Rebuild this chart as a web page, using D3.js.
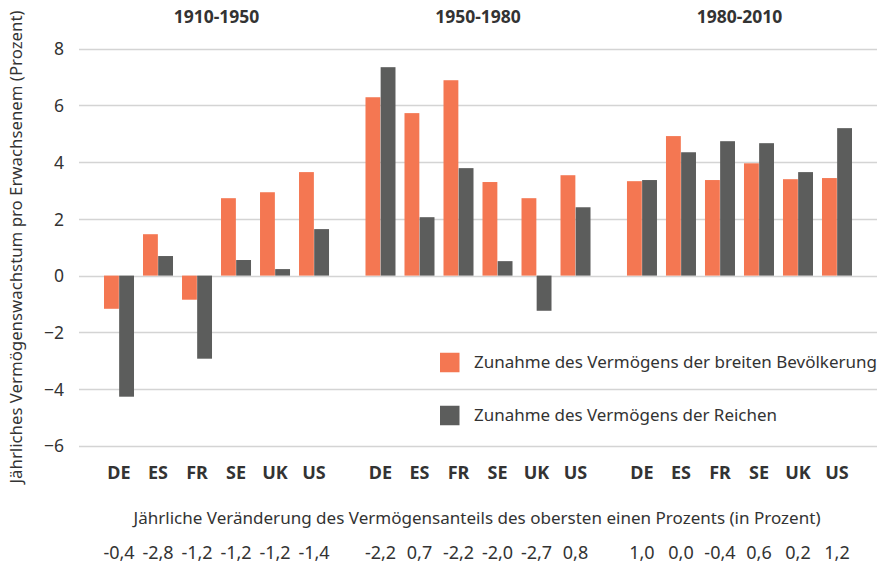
<!DOCTYPE html>
<html>
<head>
<meta charset="utf-8">
<script src="https://cdn.jsdelivr.net/npm/d3@7"></script>
<style>
  html, body { margin: 0; padding: 0; background: #fff; }
  svg { display: block; font-family: "Noto Sans", "Open Sans", sans-serif; }
</style>
</head>
<body>
<svg id="chart" width="882" height="577"></svg>
<script>
// ---- Data ----
const periods = ["1910-1950", "1950-1980", "1980-2010"];
const countries = ["DE", "ES", "FR", "SE", "UK", "US"];
const seriesNames = [
  "Zunahme des Vermögens der breiten Bevölkerung",
  "Zunahme des Vermögens der Reichen"
];
// Growth of wealth of the broad population (per period, per country)
const broadValues = [
  [-1.17, 1.46, -0.85, 2.73, 2.94, 3.65],
  [6.29, 5.73, 6.89, 3.30, 2.73, 3.54],
  [3.33, 4.92, 3.37, 3.96, 3.40, 3.44]
];
// Growth of wealth of the rich
const richValues = [
  [-4.27, 0.69, -2.93, 0.55, 0.23, 1.64],
  [7.35, 2.06, 3.79, 0.51, -1.24, 2.41],
  [3.37, 4.35, 4.74, 4.67, 3.65, 5.20]
];
// Annual change of top 1% wealth share
const shareChange = [
  ["-0,4", "-2,8", "-1,2", "-1,2", "-1,2", "-1,4"],
  ["-2,2", "0,7", "-2,2", "-2,0", "-2,7", "0,8"],
  ["1,0", "0,0", "-0,4", "0,6", "0,2", "1,2"]
];
const yTicks = [-6, -4, -2, 0, 2, 4, 6, 8];
const yTitle = "Jährliches Vermögenswachstum pro Erwachsenem (Prozent)";
const xTitle = "Jährliche Veränderung des Vermögensanteils des obersten einen Prozents (in Prozent)";
const colors = ["#F47752", "#5C5D5C"];

// ---- Layout ----
const svg = d3.select("#chart");
const gridLeft = 79, gridRight = 877;
const y = d3.scaleLinear().domain([-6, 8]).range([445.75, 48.75]);

const xGroup = d3.scaleBand().domain(periods).range([99.5, 856.5])
  .paddingInner(0.105).paddingOuter(0);
const xCountry = d3.scaleBand().domain(countries).range([0, xGroup.bandwidth()])
  .paddingInner(0.2308).paddingOuter(0.1154);
const xSeries = d3.scaleBand().domain([0, 1]).range([0, xCountry.bandwidth()]).paddingInner(0.02);

const textColor = "#333333";

// Gridlines
const grid = svg.append("g");
grid.selectAll("line").data(yTicks).join("line")
  .attr("x1", gridLeft).attr("x2", gridRight)
  .attr("y1", d => Math.round(y(d)) + 0.5).attr("y2", d => Math.round(y(d)) + 0.5)
  .attr("stroke", "#D4D4D4").attr("stroke-width", 1.5);

// Y axis labels
const yAxis = d3.axisLeft(y).tickValues(yTicks).tickSize(0).tickPadding(0).tickFormat(d3.format("d"));
const yAxisG = svg.append("g").attr("transform", "translate(64,0)").call(yAxis);
yAxisG.select(".domain").remove();
yAxisG.selectAll("text").attr("fill", textColor).style("font-size", "17.5px")
  .style("font-family", '"Noto Sans", sans-serif').attr("dy", "0.35em");

// Bars
const rows = [];
periods.forEach((p, pi) => {
  countries.forEach((c, ci) => {
    rows.push({ p, c, s: 0, v: broadValues[pi][ci] });
    rows.push({ p, c, s: 1, v: richValues[pi][ci] });
  });
});
svg.append("g").selectAll("rect").data(rows).join("rect")
  .attr("x", d => xGroup(d.p) + xCountry(d.c) + xSeries(d.s))
  .attr("width", xSeries.bandwidth())
  .attr("y", d => y(Math.max(0, d.v)))
  .attr("height", d => Math.abs(y(d.v) - y(0)))
  .attr("fill", d => colors[d.s]);

// Period titles
svg.append("g").selectAll("text").data(periods).join("text")
  .attr("x", d => xGroup(d) + xGroup.bandwidth() / 2)
  .attr("y", 17).attr("dy", "0.35em")
  .attr("text-anchor", "middle")
  .attr("fill", textColor)
  .style("font-size", "17.5px").style("font-weight", "bold")
  .text(d => d);

// Country labels & share change values
periods.forEach((p, pi) => {
  const g = svg.append("g");
  g.selectAll("text.c").data(countries).join("text").attr("class", "c")
    .attr("x", c => xGroup(p) + xCountry(c) + xCountry.bandwidth() / 2)
    .attr("y", 473).attr("dy", "0.35em")
    .attr("text-anchor", "middle").attr("fill", textColor)
    .style("font-size", "18px").style("font-weight", "bold")
    .text(c => c);
  g.selectAll("text.v").data(shareChange[pi]).join("text").attr("class", "v")
    .attr("x", (v, i) => xGroup(p) + xCountry(countries[i]) + xCountry.bandwidth() / 2)
    .attr("y", 553).attr("dy", "0.35em")
    .attr("text-anchor", "middle").attr("fill", textColor)
    .style("font-size", "18px")
    .text(v => v);
});

// X subtitle
svg.append("text")
  .attr("x", 477).attr("y", 518).attr("dy", "0.35em")
  .attr("text-anchor", "middle").attr("fill", textColor)
  .style("font-size", "17px")
  .attr("textLength", 687).attr("lengthAdjust", "spacingAndGlyphs")
  .text(xTitle);

// Y title
svg.append("text")
  .attr("transform", "translate(16,247) rotate(-90)")
  .attr("dy", "0.35em")
  .attr("text-anchor", "middle").attr("fill", textColor)
  .style("font-size", "17px")
  .attr("textLength", 473).attr("lengthAdjust", "spacingAndGlyphs")
  .text(yTitle);

// Legend
const legend = svg.append("g");
const legendY = [362.5, 415.5];
const legendLen = [403, 303];
seriesNames.forEach((name, i) => {
  legend.append("rect")
    .attr("x", 440).attr("y", legendY[i] - 9.75)
    .attr("width", 19.5).attr("height", 19.5)
    .attr("fill", colors[i]);
  legend.append("text")
    .attr("x", 474).attr("y", legendY[i]).attr("dy", "0.35em")
    .attr("fill", textColor)
    .style("font-size", "17px")
    .attr("textLength", legendLen[i]).attr("lengthAdjust", "spacingAndGlyphs")
    .text(name);
});
</script>
</body>
</html>
